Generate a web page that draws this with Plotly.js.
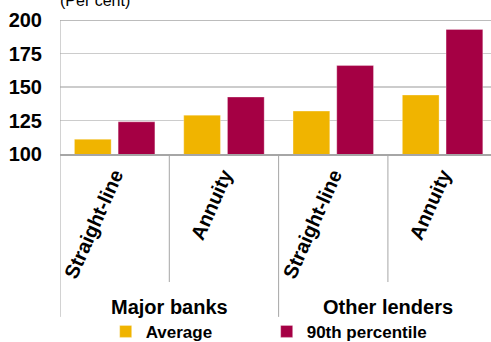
<!DOCTYPE html>
<html>
<head>
<meta charset="utf-8">
<script src="https://cdn.plot.ly/plotly-3.0.1.min.js"></script>
<style>html,body{margin:0;padding:0;background:#fff;}#chart{width:491px;height:342px;}</style>
</head>
<body>
<div id="chart"></div>
<script>
const categories = ["Straight-line", "Annuity", "Straight-line", "Annuity"];
const groups = ["Major banks", "Other lenders"];
const averageValues = [111, 129, 132, 144];
const p90Values = [124, 142.5, 166, 193];
const seriesNames = ["Average", "90th percentile"];
const yTicks = [100, 125, 150, 175, 200];
const yAxisLabel = "(Per cent)";

const FONT = "Liberation Sans, Arial, Helvetica, sans-serif";
const xIdx = categories.map((_, i) => i);

const traces = [
  {type: "bar", name: seriesNames[0], x: xIdx, y: averageValues,
   marker: {color: "#f0b400", line: {color: "rgba(255,255,255,0.6)", width: 0.5}}},
  {type: "bar", name: seriesNames[1], x: xIdx, y: p90Values,
   marker: {color: "#a50044", line: {color: "rgba(255,255,255,0.6)", width: 0.5}}}
];

const pyOf = (px) => (154.5 - px) / 134.5; // helper for paper y below axis
const shapes = [];
shapes.push({type: "line", xref: "paper", x0: 0, x1: 1, yref: "y", y0: yTicks[yTicks.length-1], y1: yTicks[yTicks.length-1], line: {color: "#a6a6a6", width: 1.5}});
shapes.push({type: "line", xref: "x", x0: -0.5, x1: -0.5, yref: "paper", y0: 1, y1: pyOf(318), line: {color: "#a6a6a6", width: 1}});
for (let i = 1; i < categories.length; i++) {
  const isGroup = i === categories.length / 2;
  shapes.push({type: "line", xref: "x", x0: i - 0.5, x1: i - 0.5, yref: "paper", y0: 0, y1: isGroup ? pyOf(318) : pyOf(283), line: {color: "#a6a6a6", width: 1}});
}

const annotations = groups.map((g, gi) => ({
  text: "<b>" + g + "</b>", xref: "x", x: gi * 2 + 0.5, yref: "paper", y: pyOf(308),
  xanchor: "center", yanchor: "middle", showarrow: false,
  font: {family: FONT, size: 20, color: "#000"}
}));
annotations.push({text: yAxisLabel, xref: "paper", x: (95 - 60) / 431, yref: "paper", y: 1,
  xanchor: "center", yanchor: "bottom", yshift: 9, showarrow: false,
  font: {family: FONT, size: 16, color: "#000"}});

const layout = {
  width: 491, height: 342,
  margin: {l: 60, r: 0, t: 20, b: 187.5, autoexpand: false},
  paper_bgcolor: "#fff", plot_bgcolor: "#fff",
  font: {family: FONT, color: "#000"},
  barmode: "group", bargap: 0.2, bargroupgap: 0.16,
  showlegend: true,
  legend: {orientation: "h", x: 0.106, xanchor: "left", y: pyOf(333), yanchor: "middle",
    font: {family: FONT, size: 17, color: "#000", weight: "bold"},
    entrywidth: 116, entrywidthmode: "pixels", traceorder: "normal", bgcolor: "rgba(0,0,0,0)"},
  xaxis: {range: [-0.5, 3.443], tickmode: "array", tickvals: xIdx,
    ticktext: categories.map(c => "<b>" + c + "</b>"),
    tickangle: -66, tickfont: {family: FONT, size: 20, color: "#000"},
    showline: true, linecolor: "#a6a6a6", linewidth: 1.5, showgrid: false, zeroline: false, ticks: "", fixedrange: true},
  yaxis: {range: [100, 200], tickmode: "array", tickvals: yTicks, ticktext: yTicks.map(t => "<b>" + t + "</b>"),
    tickfont: {family: FONT, size: 20, color: "#000"}, ticklabelstandoff: 17,
    showgrid: true, gridcolor: "#cccccc", gridwidth: 1.5, zeroline: false, showline: false, ticks: "", fixedrange: true},
  shapes: shapes,
  annotations: annotations
};

Plotly.newPlot("chart", traces, layout, {displayModeBar: false, staticPlot: true});
</script>
</body>
</html>
